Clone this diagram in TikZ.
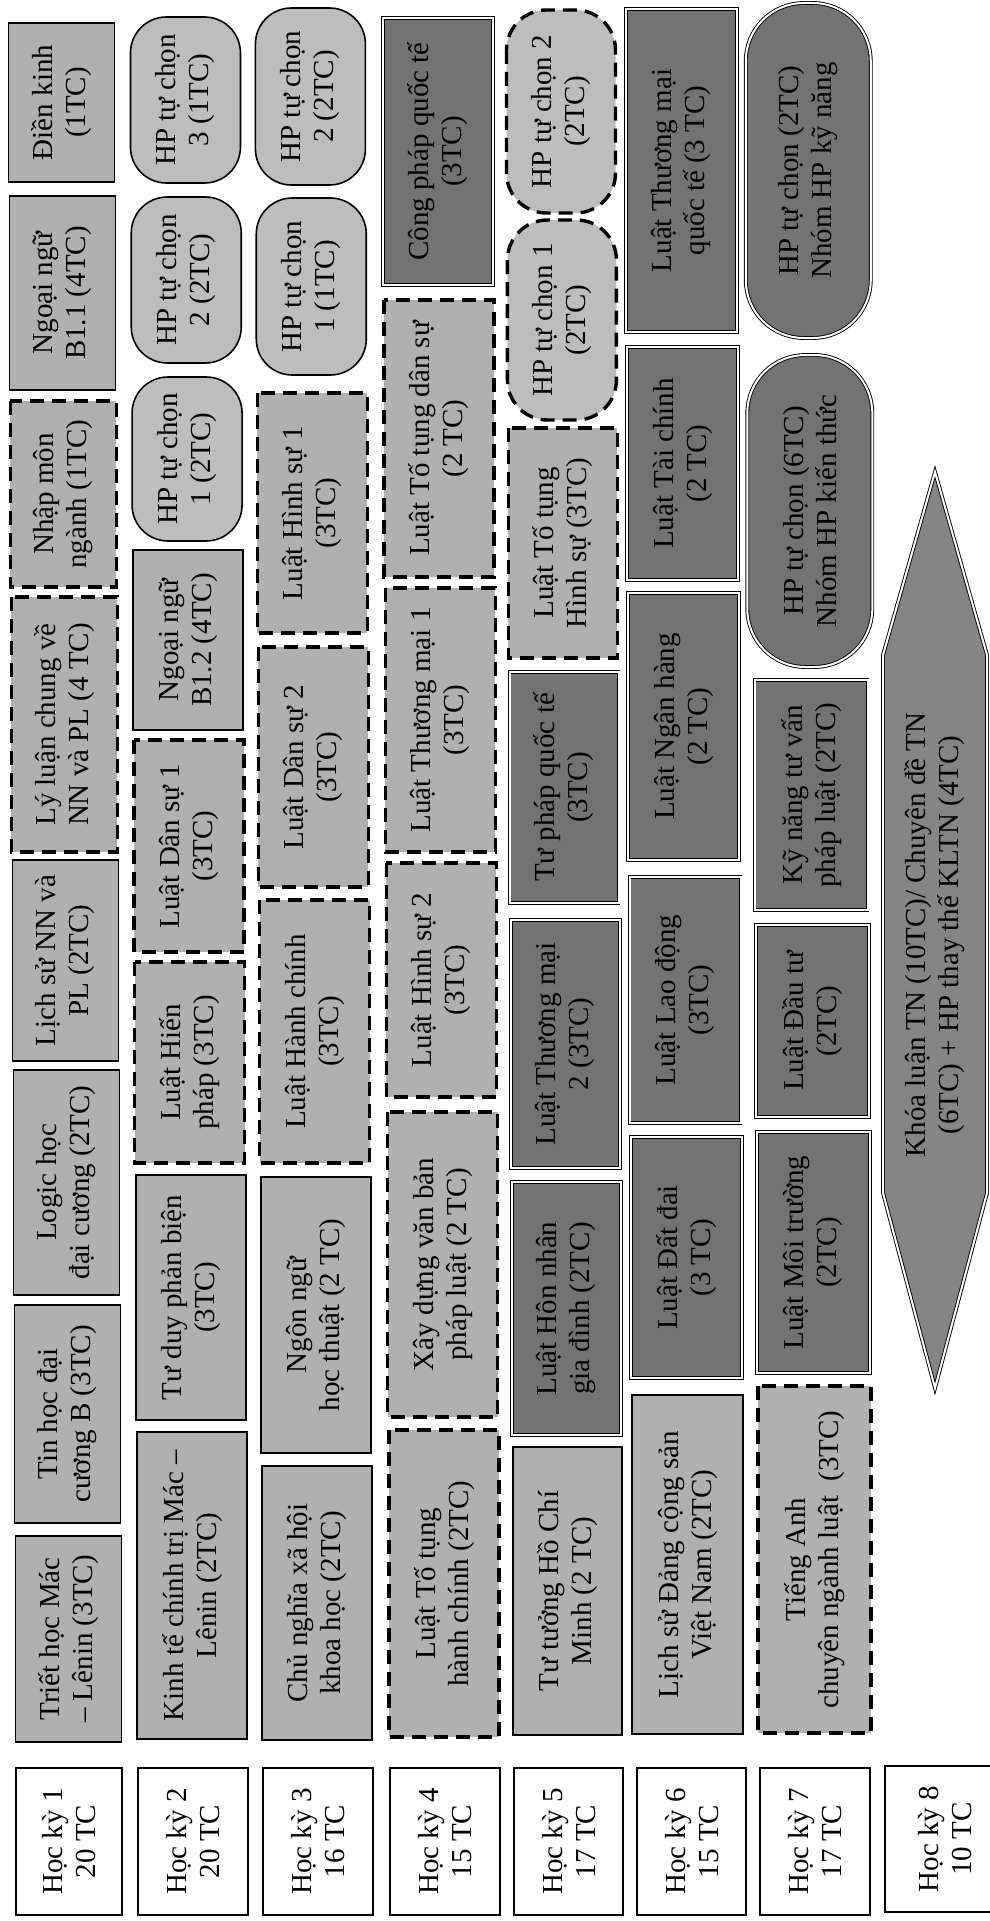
\documentclass[tikz,border=0pt]{standalone}
\usepackage{fontspec}
\setmainfont{Liberation Serif}
\definecolor{lightg}{gray}{0.69}
\definecolor{roundg}{gray}{0.74}
\definecolor{darkg}{gray}{0.45}
\definecolor{arrowg}{gray}{0.52}
\newcommand\mybox[7]{\node[#1, minimum width={(#6)-(#5)}, minimum height={(#4)-(#3)}] (#2) at ({((#3)+(#4))/2+0.0045*((#5)+(#6))/2-4}, {-((#5)+(#6))/2}) {#7};}
\begin{document}
\begin{tikzpicture}[x=1pt,y=1pt,
  every node/.style={font=\fontsize{29}{33}\selectfont, align=center, inner sep=0pt, rotate=90},
  lightbox/.style={fill=lightg, draw=black, line width=1.6pt},
  dashbox/.style={fill=lightg, draw=black, line width=3.4pt, dash pattern=on 14pt off 8pt},
  darkbox/.style={fill=darkg, draw=black, double=white, line width=0.9pt, double distance=2pt},
  roundbox/.style={fill=roundg, draw=black, line width=1.6pt, rounded corners=36pt},
  rounddash/.style={fill=roundg, draw=black, line width=3.4pt, dash pattern=on 14pt off 8pt, rounded corners=40pt},
  rounddark/.style={fill=darkg, draw=black, double=white, line width=0.9pt, double distance=2pt, rounded corners=58pt},
  labelbox/.style={fill=white, draw=black, line width=1.8pt}
]
\useasboundingbox[fill=white] (0,0) rectangle (989,-1921);

% Hoc ky 1
\mybox{lightbox}{triet}{12}{118}{1536}{1742}{Triết học Mác\\– Lênin (3TC)}
\mybox{lightbox}{tinhoc}{12}{118}{1305}{1523}{Tin học đại\\cương B (3TC)}
\mybox{lightbox}{logic}{12}{118}{1070}{1295}{Logic học\\đại cương (2TC)}
\mybox{lightbox}{lichsu}{12}{118}{860}{1061}{Lịch sử NN và\\PL (2TC)}
\mybox{dashbox}{lyluan}{12}{118}{597}{852}{Lý luận chung về\\NN và PL (4 TC)}
\mybox{dashbox}{nhapmon}{12}{118}{401}{587}{Nhập môn\\ngành (1TC)}
\mybox{lightbox}{nnb11}{12}{118}{196}{390}{Ngoại ngữ\\B1.1 (4TC)}
\mybox{lightbox}{dienkinh}{12}{118}{23}{182}{Điền kinh\\(1TC)}

% Hoc ky 2
\mybox{lightbox}{ktct}{134}{244}{1432}{1739}{Kinh tế chính trị Mác –\\Lênin (2TC)}
\mybox{lightbox}{tdpb}{134}{244}{1175}{1420}{Tư duy phản biện\\(3TC)}
\mybox{dashbox}{lhp}{134}{244}{962}{1163}{Luật Hiến\\pháp (3TC)}
\mybox{dashbox}{lds1}{134}{244}{740}{952}{Luật Dân sự 1\\(3TC)}
\mybox{lightbox}{nnb12}{134}{244}{550}{730}{Ngoại ngữ\\B1.2 (4TC)}
\mybox{roundbox}{hpaa}{134}{244}{377}{541}{HP tự chọn\\1 (2TC)}
\mybox{roundbox}{hpab}{134}{244}{197}{363}{HP tự chọn\\2 (2TC)}
\mybox{roundbox}{hpac}{134}{244}{17}{183}{HP tự chọn\\3 (1TC)}

% Hoc ky 3
\mybox{lightbox}{cnxh}{259}{369}{1466}{1740}{Chủ nghĩa xã hội\\khoa học (2TC)}
\mybox{lightbox}{nnht}{259}{369}{1177}{1453}{Ngôn ngữ\\học thuật (2 TC)}
\mybox{dashbox}{lhc}{259}{369}{900}{1163}{Luật Hành chính\\(3TC)}
\mybox{dashbox}{lds2}{259}{369}{647}{887}{Luật Dân sự 2\\(3TC)}
\mybox{dashbox}{lhs1}{259}{369}{393}{633}{Luật Hình sự 1\\(3TC)}
\mybox{roundbox}{hpba}{259}{369}{198}{375}{HP tự chọn\\1 (1TC)}
\mybox{roundbox}{hpbb}{259}{369}{8}{185}{HP tự chọn\\2 (2TC)}

% Hoc ky 4
\mybox{dashbox}{ltthc}{386}{496}{1430}{1737}{Luật Tố tụng\\hành chính (2TC)}
\mybox{dashbox}{xdvb}{386}{496}{1112}{1417}{Xây dựng văn bản\\pháp luật (2 TC)}
\mybox{dashbox}{lhs2}{386}{496}{863}{1097}{Luật Hình sự 2\\(3TC)}
\mybox{dashbox}{ltm1}{386}{496}{588}{852}{Luật Thương mại 1\\(3TC)}
\mybox{dashbox}{lttds}{386}{496}{300}{577}{Luật Tố tụng dân sự\\(2 TC)}
\mybox{darkbox}{cpqt}{386}{496}{18}{285}{Công pháp quốc tế\\(3TC)}

% Hoc ky 5
\mybox{lightbox}{tthcm}{510}{619}{1447}{1735}{Tư tưởng Hồ Chí\\Minh (2 TC)}
\mybox{darkbox}{lhn}{510}{619}{1182}{1435}{Luật Hôn nhân\\gia đình (2TC)}
\mybox{darkbox}{ltm2}{510}{619}{920}{1168}{Luật Thương mại\\2 (3TC)}
\mybox{darkbox}{tpqt}{510}{619}{672}{903}{Tư pháp quốc tế\\(3TC)}
\mybox{dashbox}{ltths}{510}{619}{428}{658}{Luật Tố tụng\\Hình sự (3TC)}
\mybox{rounddash}{hpca}{510}{619}{220}{420}{HP tự chọn 1\\(2TC)}
\mybox{rounddash}{hpcb}{510}{619}{10}{213}{HP tự chọn 2\\(2TC)}

% Hoc ky 6
\mybox{lightbox}{lsd}{629}{740}{1395}{1734}{Lịch sử Đảng cộng sản\\Việt Nam (2TC)}
\mybox{darkbox}{ldd}{629}{740}{1137}{1378}{Luật Đất đai\\(3 TC)}
\mybox{darkbox}{lld}{629}{740}{877}{1123}{Luật Lao động\\(3TC)}
\mybox{darkbox}{lnh}{629}{740}{593}{860}{Luật Ngân hàng\\(2 TC)}
\mybox{darkbox}{ltc}{629}{740}{347}{580}{Luật Tài chính\\(2 TC)}
\mybox{darkbox}{ltmqt}{629}{740}{9}{332}{Luật Thương mại\\quốc tế (3 TC)}

% Hoc ky 7
\mybox{dashbox}{tacn}{755}{868}{1386}{1733}{Tiếng Anh\\chuyên ngành luật\ \ (3TC)}
\mybox{darkbox}{lmt}{755}{868}{1132}{1373}{Luật Môi trường\\(2TC)}
\mybox{darkbox}{ldt}{755}{868}{925}{1117}{Luật Đầu tư\\(2TC)}
\mybox{darkbox}{kntv}{755}{868}{680}{910}{Kỹ năng tư vấn\\pháp luật (2TC)}
\mybox{rounddark}{hpkt}{749}{874}{355}{667}{HP tự chọn (6TC)\\Nhóm HP kiến thức}
\mybox{rounddark}{hpkn}{749}{874}{3}{338}{HP tự chọn (2TC)\\Nhóm HP kỹ năng}

% Hoc ky 8
\draw[darkbox, fill=arrowg] (935,-472) -- (987,-655) -- (987,-1193) -- (935,-1388) -- (883,-1193) -- (883,-655) -- cycle;
\node (kltn) at (935,-935) {Khóa luận TN (10TC)/ Chuyên đề TN\\(6TC) + HP thay thế KLTN (4TC)};

% Semester labels
\mybox{labelbox}{hka}{12}{118}{1768}{1915}{Học kỳ 1\\20 TC}
\mybox{labelbox}{hkb}{134}{244}{1768}{1915}{Học kỳ 2\\20 TC}
\mybox{labelbox}{hkc}{259}{369}{1768}{1915}{Học kỳ 3\\16 TC}
\mybox{labelbox}{hkd}{386}{496}{1768}{1915}{Học kỳ 4\\15 TC}
\mybox{labelbox}{hke}{510}{619}{1768}{1915}{Học kỳ 5\\17 TC}
\mybox{labelbox}{hkf}{633}{742}{1768}{1915}{Học kỳ 6\\15 TC}
\mybox{labelbox}{hkg}{756}{866}{1768}{1915}{Học kỳ 7\\17 TC}
\mybox{labelbox}{hkh}{881}{1000}{1766}{1912}{Học kỳ 8\\10 TC}
\end{tikzpicture}
\end{document}
